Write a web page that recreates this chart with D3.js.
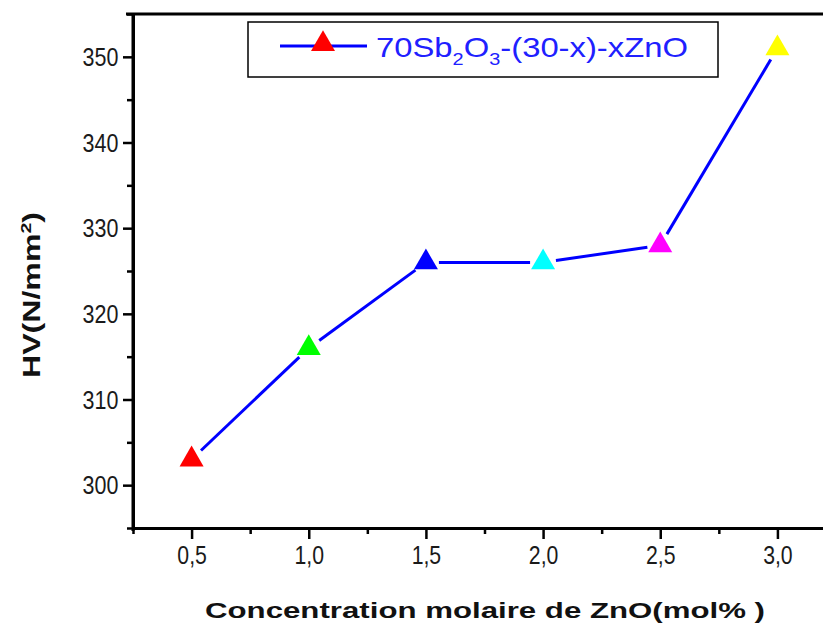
<!DOCTYPE html>
<html><head><meta charset="utf-8">
<script src="https://cdn.jsdelivr.net/npm/d3@7"></script>
<style>body{margin:0;background:#fff}svg{display:block}</style>
</head><body>
<svg id="c" width="823" height="623"></svg>
<script>
const concentrations = [0.5, 1.0, 1.5, 2.0, 2.5, 3.0];
const hardness = [303, 316, 326, 326, 328, 351];
const markerColors = ["#ff0000", "#00ff00", "#0000ff", "#00ffff", "#ff00ff", "#ffff00"];
const xMajorTicks = [0.5, 1.0, 1.5, 2.0, 2.5, 3.0];
const xMinorTicks = [0.25, 0.75, 1.25, 1.75, 2.25, 2.75, 3.25];
const yMajorTicks = [300, 310, 320, 330, 340, 350];
const yMinorTicks = [295, 305, 315, 325, 335, 345, 355];

const svg = d3.select("#c");
const L = 133, T = 14, B = 528, R = 836;
const x = d3.scaleLinear().domain([0.25, 3.25]).range([L, R]);
const y = d3.scaleLinear().domain([295, 355]).range([B, T]);
const fmt = d => d3.format(".1f")(d).replace(".", ",");
const font = "Arial, 'Liberation Sans', sans-serif";

// axes
const gx = svg.append("g").attr("transform", `translate(0,${B})`)
  .call(d3.axisBottom(x).tickValues(xMajorTicks).tickFormat(fmt).tickSize(11).tickSizeOuter(0));
const gxm = svg.append("g").attr("transform", `translate(0,${B})`)
  .call(d3.axisBottom(x).tickValues(xMinorTicks).tickFormat("").tickSize(6).tickSizeOuter(0));
const gy = svg.append("g").attr("transform", `translate(${L},0)`)
  .call(d3.axisLeft(y).tickValues(yMajorTicks).tickFormat(d3.format("d")).tickSize(10).tickSizeOuter(0));
const gym = svg.append("g").attr("transform", `translate(${L},0)`)
  .call(d3.axisLeft(y).tickValues(yMinorTicks).tickFormat("").tickSize(6).tickSizeOuter(0));
[gx, gxm, gy, gym].forEach(g => {
  g.attr("font-size", 25).attr("font-family", font);
  g.select(".domain").attr("stroke", "#000").attr("stroke-width", 3);
  g.selectAll(".tick line").attr("stroke", "#000").attr("stroke-width", 2.5);
  g.selectAll("text").attr("fill", "#1a1a1a");
});
gy.select(".domain").attr("d", `M0,${y(295)+3}V${T}`);
gx.selectAll(".tick text").attr("y", 18).attr("dy", "0.71em").attr("transform", "scale(0.85,1)");
gy.selectAll(".tick text").attr("x", -17).attr("dy", "0.34em").attr("transform", "scale(0.86,1)");

// top frame
svg.append("line").attr("x1", L - 7).attr("x2", 823).attr("y1", T).attr("y2", T)
  .attr("stroke", "#000").attr("stroke-width", 3);

// line segments with gaps around markers
const gap = 13;
const pts = concentrations.map((c, i) => [x(c), y(hardness[i])]);
const segs = d3.pairs(pts).map(([a, b]) => {
  const dx = b[0] - a[0], dy = b[1] - a[1], len = Math.hypot(dx, dy);
  const ux = dx / len, uy = dy / len;
  return [[a[0] + ux * gap, a[1] + uy * gap], [b[0] - ux * gap, b[1] - uy * gap]];
});
svg.append("g").selectAll("path").data(segs).join("path")
  .attr("d", d => d3.line()(d)).attr("stroke", "#0000ff").attr("stroke-width", 3).attr("fill", "none");

// markers
const tri = d3.symbol().type(d3.symbolTriangle).size(250);
svg.append("g").selectAll("path").data(concentrations).join("path")
  .attr("d", tri).attr("transform", (d, i) => `translate(${x(d)},${y(hardness[i])})`)
  .attr("fill", (d, i) => markerColors[i]);

// legend
svg.append("rect").attr("x", 248).attr("y", 22).attr("width", 470).attr("height", 55)
  .attr("fill", "#fff").attr("stroke", "#000").attr("stroke-width", 1.5);
svg.append("line").attr("x1", 280).attr("x2", 367).attr("y1", 46).attr("y2", 46)
  .attr("stroke", "#0000ff").attr("stroke-width", 3);
svg.append("path").attr("d", tri).attr("transform", "translate(323,44)").attr("fill", "#ff0000");
const lt = svg.append("text").attr("x", 376).attr("y", 57).attr("font-family", font)
  .attr("font-size", 28).attr("fill", "#2020ff");
lt.append("tspan").text("70Sb");
lt.append("tspan").attr("dy", 8).attr("font-size", 17).text("2");
lt.append("tspan").attr("dy", -8).text("O");
lt.append("tspan").attr("dy", 8).attr("font-size", 17).text("3");
lt.append("tspan").attr("dy", -8).text("-(30-x)-xZnO");
lt.attr("textLength", 312).attr("lengthAdjust", "spacingAndGlyphs");

// axis titles
svg.append("text").attr("x", 205).attr("y", 618).attr("font-family", font)
  .attr("font-weight", "bold").attr("font-size", 22).attr("fill", "#111")
  .attr("textLength", 560).attr("lengthAdjust", "spacingAndGlyphs")
  .text("Concentration molaire de ZnO(mol% )");
const yt = svg.append("text").attr("transform", "translate(40,378) rotate(-90)")
  .attr("font-family", font).attr("font-weight", "bold").attr("font-size", 23).attr("fill", "#111");
yt.append("tspan").text("HV(N/mm");
yt.append("tspan").attr("dy", -9).attr("font-size", 14).text("2");
yt.append("tspan").attr("dy", 9).text(")");
yt.attr("textLength", 166).attr("lengthAdjust", "spacingAndGlyphs");
</script>
</body></html>
